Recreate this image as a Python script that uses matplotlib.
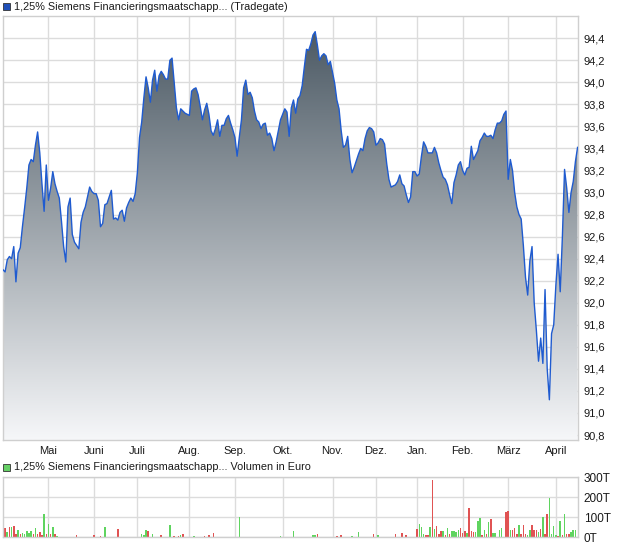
import numpy as np
import matplotlib.pyplot as plt
from matplotlib.patches import Rectangle

plt.rcParams["font.family"] = ["Liberation Sans", "DejaVu Sans"]

# daily closing prices (trading-day index 0..265)
price = [
    92.30, 92.28, 92.39, 92.42, 92.40, 92.51, 92.19, 92.45, 92.50, 92.69,
    92.86, 93.04, 93.25, 93.30, 93.28, 93.43, 93.55, 93.36, 93.08, 92.83,
    93.25, 92.93, 93.04, 93.19, 93.08, 93.01, 92.95, 92.74, 92.51, 92.37,
    92.87, 92.95, 92.62, 92.55, 92.52, 92.49, 92.73, 92.82, 92.87, 92.96,
    93.05, 93.01, 92.99, 92.99, 92.93, 92.69, 92.72, 92.89, 92.90, 92.96,
    93.02, 92.76, 92.77, 92.75, 92.82, 92.84, 92.74, 92.86, 92.91, 92.95,
    92.92, 92.99, 93.18, 93.50, 93.64, 93.86, 94.05, 93.95, 93.82, 94.02,
    94.11, 93.92, 94.06, 94.10, 94.07, 94.03, 94.03, 94.20, 94.22, 94.00,
    93.77, 93.66, 93.76, 93.74, 93.72, 93.71, 93.70, 93.92, 93.94, 93.95,
    93.89, 93.78, 93.66, 93.75, 93.81, 93.71, 93.56, 93.52, 93.58, 93.66,
    93.51, 93.61, 93.61, 93.67, 93.70, 93.63, 93.57, 93.50, 93.33, 93.50,
    93.66, 93.95, 94.02, 93.89, 93.91, 93.86, 93.74, 93.66, 93.64, 93.58,
    93.62, 93.63, 93.52, 93.54, 93.49, 93.38, 93.46, 93.56, 93.66, 93.71,
    93.76, 93.73, 93.51, 93.77, 93.84, 93.72, 93.85, 93.88, 93.97, 94.14,
    94.30, 94.29, 94.35, 94.43, 94.46, 94.34, 94.20, 94.24, 94.26, 94.24,
    94.16, 94.19, 94.09, 93.99, 93.84, 93.76, 93.56, 93.41, 93.43, 93.51,
    93.30, 93.18, 93.23, 93.29, 93.35, 93.40, 93.38, 93.49, 93.56, 93.59,
    93.58, 93.55, 93.43, 93.45, 93.49, 93.48, 93.44, 93.26, 93.12, 93.05,
    93.06, 93.07, 93.10, 93.16, 93.08, 93.06, 92.98, 92.91, 92.96, 93.19,
    93.19, 93.15, 93.17, 93.33, 93.46, 93.42, 93.36, 93.36, 93.36, 93.41,
    93.36, 93.27, 93.20, 93.14, 93.12, 93.07, 92.98, 92.90, 93.09, 93.16,
    93.25, 93.28, 93.20, 93.16, 93.22, 93.23, 93.42, 93.30, 93.34, 93.38,
    93.47, 93.50, 93.54, 93.51, 93.51, 93.52, 93.49, 93.57, 93.63, 93.63,
    93.65, 93.71, 93.74, 93.12, 93.30, 93.20, 93.00, 92.87, 92.80, 92.76,
    92.52, 92.23, 92.07, 92.38, 92.51, 92.00, 91.75, 91.47, 91.68, 91.45,
    92.12, 91.40, 91.12, 91.72, 91.80, 92.16, 92.44, 92.10, 92.60, 93.21,
    93.04, 92.82, 93.00, 93.10, 93.28, 93.41,
]

# first trading day of each month
month_start = [21, 42, 62, 86, 107, 129, 152, 172, 191, 212, 233, 255]
month_names = ["Mai", "Juni", "Juli", "Aug.", "Sep.", "Okt.", "Nov.",
               "Dez.", "Jan.", "Feb.", "März", "April"]

price_ticks = [90.8, 91.0, 91.2, 91.4, 91.6, 91.8, 92.0, 92.2, 92.4,
               92.6, 92.8, 93.0, 93.2, 93.4, 93.6, 93.8, 94.0, 94.2, 94.4]

# volume in thousand euro, day index and direction (1 = up, 0 = down)
vol_day = [0, 1, 2, 3, 4, 5, 6, 7, 8, 9, 10, 11, 12, 13, 14, 15, 16, 17, 18,
           19, 20, 21, 22, 23, 24, 25, 34, 42, 45, 47, 53, 64, 65, 66, 67, 69,
           73, 77, 79, 81, 82, 83, 88, 93, 95, 97, 109, 128, 134,
           143, 144, 145, 154, 156, 161, 164, 171, 173, 181, 184, 186,
           191, 192, 193, 194, 195, 196, 197, 198, 199, 200, 201, 202, 203,
           204, 205, 206, 207, 208, 209, 210, 211, 212, 213, 214, 215, 216,
           217, 218, 219, 220, 221, 222, 223, 224, 225, 226, 227, 229, 230,
           232, 233, 234, 235, 236, 237, 238, 239, 240, 241, 242, 243, 244,
           245, 246, 247, 248, 249, 250, 251, 252, 253, 254, 255, 256, 257,
           258, 259, 260, 261, 262, 263, 264]
vol_amount = [31, 43, 26, 48, 48, 53, 17, 36, 17, 22, 17, 31, 22, 31, 17, 43,
              17, 26, 9, 116, 17, 64, 14, 48, 17, 7, 12, 12, 5, 48, 38, 14, 9,
              33, 28, 17, 9, 60, 5, 5, 9, 17, 7, 5, 9, 22, 100, 7, 28,
              12, 8, 14, 5, 8, 5, 24, 14, 8, 14, 19, 10,
              39, 64, 49, 14, 8, 8, 51, 285, 39, 54, 15, 31, 31,
              10, 47, 17, 29, 31, 25, 34, 47, 22, 31, 20, 146, 29,
              24, 25, 80, 95, 8, 37, 14, 75, 90, 20, 20, 37, 47,
              125, 131, 34, 34, 47, 14, 58, 15, 58, 17, 8, 37, 58,
              34, 36, 25, 42, 100, 17, 115, 195, 17, 54, 12, 5, 80,
              8, 115, 17, 17, 25, 34, 34]
vol_up = [1, 0, 1, 0, 1, 0, 0, 1, 0, 1, 1, 1, 1, 1, 0, 1, 0, 0, 0, 1, 0, 1,
          0, 1, 0, 1, 0, 0, 0, 1, 0, 1, 1, 1, 0, 1, 0, 1, 0, 0, 1, 0, 1, 0,
          0, 0, 1, 1, 1,
          1, 1, 0, 0, 0, 1, 1, 0, 1, 0, 0, 0,
          0, 1, 1, 1, 0, 0, 1, 0, 1, 0, 0, 0, 1,
          0, 1, 0, 1, 1, 1, 1, 0, 0, 0, 1, 0, 0,
          0, 1, 1, 1, 0, 1, 0, 1, 0, 1, 1, 1, 1,
          0, 0, 1, 0, 0, 0, 1, 0, 0, 0, 1, 1, 0,
          0, 0, 1, 0, 1, 0, 0, 1, 1, 1, 1, 0, 1,
          0, 1, 0, 0, 1, 1, 1]
vol_ticks = [0, 100, 200, 300]

W, H = 620, 546
GRID = "#dcdcdc"
TXT = "#1a1a1a"
LINE = "#1f5bd0"

fig = plt.figure(figsize=(W / 100, H / 100), dpi=100)


def frac(x0, y_top, x1, y_bot):
    return [x0 / W, 1 - y_bot / H, (x1 - x0) / W, (y_bot - y_top) / H]


days = np.arange(len(price))
prices = np.array(price)

# ---- price panel
ax = fig.add_axes(frac(2.7, 16, 578, 440))
ax.set_xlim(-0.1, 265.2)
ax.set_ylim(90.755, 94.602)

poly = ax.fill_between(days, prices, 80, color="none", lw=0)
grad = np.linspace(0, 1, 256)[:, None, None]
top_c = np.array([70, 84, 95]) / 255
bot_c = np.array([246, 247, 249]) / 255
img = top_c + (bot_c - top_c) * grad
im = ax.imshow(img, extent=[-0.1, 265.2, 90.755, 94.602], aspect="auto",
               origin="upper", zorder=1)
im.set_clip_path(poly.get_paths()[0], transform=ax.transData)
ax.plot(days, prices, color=LINE, lw=1.0, zorder=3)

ax.set_xticks(month_start)
ax.set_xticklabels(month_names)
ax.set_yticks(price_ticks)
ax.set_yticklabels([f"{t:.1f}".replace(".", ",") for t in price_ticks])
ax.yaxis.tick_right()
ax.grid(True, color=GRID, lw=1.0, zorder=0)
ax.set_axisbelow(True)
ax.tick_params(length=0, labelsize=8, colors=TXT, pad=4)
ax.tick_params(axis="y", pad=4)
for s in ax.spines.values():
    s.set_color("#cfcfcf")
    s.set_linewidth(1.0)

# ---- volume panel
axv = fig.add_axes(frac(2.7, 477, 578, 537))
axv.set_xlim(-0.1, 265.2)
axv.set_ylim(0, 300)
cols = ["#5fd45f" if u else "#e05353" for u in vol_up]
axv.bar(vol_day, vol_amount, width=0.7, color=cols, lw=0, zorder=2)
axv.set_xticks(month_start)
axv.set_xticklabels([])
axv.set_yticks(vol_ticks)
axv.set_yticklabels([f"{t}T" for t in vol_ticks])
axv.yaxis.tick_right()
axv.grid(True, color=GRID, lw=1.0, zorder=0)
axv.set_axisbelow(True)
axv.tick_params(length=0, labelsize=8.5, colors=TXT, pad=4)
for s in axv.spines.values():
    s.set_color("#cfcfcf")
    s.set_linewidth(1.0)

# ---- legends
fig.add_artist(Rectangle((3 / W, 1 - 10 / H), 7 / W, 7 / H, transform=fig.transFigure,
                         facecolor="#1f4fb8", edgecolor="#333333", lw=0.6))
fig.text(14 / W, 1 - 7 / H, "1,25% Siemens Financieringsmaatschapp... (Tradegate)",
         fontsize=7.8, color=TXT, va="center")
fig.add_artist(Rectangle((3 / W, 1 - 471 / H), 7 / W, 7 / H, transform=fig.transFigure,
                         facecolor="#66d066", edgecolor="#333333", lw=0.6))
fig.text(14 / W, 1 - 467.5 / H, "1,25% Siemens Financieringsmaatschapp... Volumen in Euro",
         fontsize=7.8, color=TXT, va="center")

fig.savefig("out.png", dpi=100)
